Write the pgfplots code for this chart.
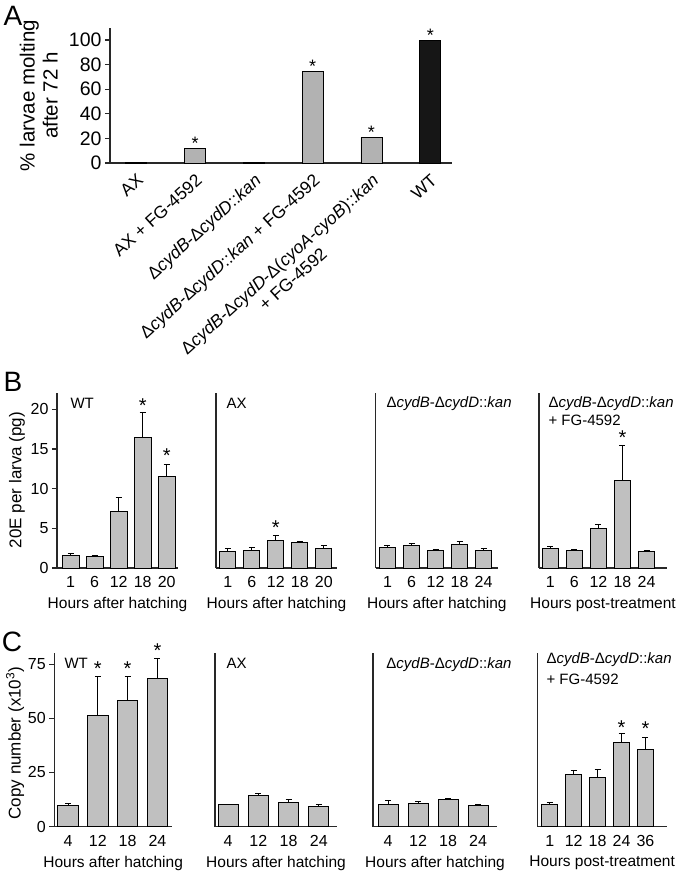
\documentclass[border=0pt]{standalone}
\usepackage{fontspec}
\setmainfont{Liberation Sans}
\usepackage{pgfplots}
\pgfplotsset{compat=1.18}

\definecolor{barA}{RGB}{178,178,178}
\definecolor{barB}{RGB}{192,192,192}
\definecolor{barK}{RGB}{22,22,22}
\definecolor{axc}{RGB}{40,40,40}

\newcommand{\fs}[2]{\fontsize{#1bp}{#2bp}\selectfont}

\tikzset{
  star/.style={font=\fs{20}{20}},
  stara/.style={font=\fs{18}{18}},
  inlab/.style={anchor=base west, font=\fs{15}{18}},
}
\pgfplotsset{
  panel/.style={scale only axis, anchor=south west, clip=false,
    axis x line*=bottom, axis y line*=left,
    axis line style={axc, line width=1.3bp},
    ymin=0, xtick style={draw=none},
    ytick style={axc, line width=1.3bp}, tick align=outside, major tick length=5bp,
    /pgf/number format/assume math mode=true,
    xticklabel style={font=\fs{16}{18}},
    yticklabel style={font=\fs{16}{18}},
    xlabel style={font=\fs{15.5}{18}, yshift=-3bp},
    ylabel style={font=\fs{17}{18}},
    height=175bp, ymax=22.05, ytick=\empty, xtick={0,...,4},
  },
  bpanel/.style={panel, height=175bp, ymax=22.05},
  cpanel/.style={panel, height=173.8bp, ymax=80.3},
  gbar/.style={ybar, bar width=#1, fill=barB, draw=black, line width=0.9bp,
    error bars/y dir=plus, error bars/y explicit,
    error bars/error bar style={line width=0.9bp, black},
    error bars/error mark options={rotate=90, mark size=3bp, line width=0.9bp, black}},
}

\begin{document}
\begin{tikzpicture}
\path[use as bounding box] (0,0) rectangle (677bp,874bp);

% ---------------- Panel A ----------------
\node[font=\fs{28}{28}] at (13bp,858bp) {A};
\begin{axis}[panel, at={(110bp,711bp)}, width=342bp, height=135bp,
  xmin=-0.45, xmax=5.37, ymin=0, ymax=109.8,
  ytick={0,20,...,100}, xtick={0,...,5},
  yticklabel style={font=\fs{19.5}{20}},
  xticklabels={{AX},{AX + FG-4592},{Δ\textit{cydB}-Δ\textit{cydD}::\textit{kan}},{Δ\textit{cydB}-Δ\textit{cydD}::\textit{kan} + FG-4592},{Δ\textit{cydB}-Δ\textit{cydD}-Δ(\textit{cyoA-cyoB})::\textit{kan}\\+ FG-4592},{WT}},
  xticklabel style={rotate=42, anchor=north east, align=center, font=\fs{17.5}{20}},
  ylabel={\% larvae molting\\after 72 h},
  ylabel style={font=\fs{20.5}{23}, align=center, at={(axis description cs:-0.208,0.5)}, anchor=center}]
\addplot[ybar, bar width=21bp, fill=barA, draw=black, line width=0.9bp] table[x=x,y=y] {
x y
0 0.8
1 12
2 0.8
3 74.4
4 20.9
};
\addplot[ybar, bar width=21bp, fill=barK, draw=black, line width=0.9bp] table[x=x,y=y] {
x y
5 100
};
\node[stara] at (axis cs:1,12) [yshift=5bp] {*};
\node[stara] at (axis cs:3,74.4) [yshift=5bp] {*};
\node[stara] at (axis cs:4,20.9) [yshift=5bp] {*};
\node[stara] at (axis cs:5,100) [yshift=5bp] {*};
\end{axis}

% ---------------- Panel B ----------------
\node[font=\fs{28}{28}] at (13bp,492bp) {B};
\begin{axis}[bpanel, at={(57bp,306bp)}, width=121bp, xmin=-0.57, xmax=4.47,
  ytick={0,5,...,20}, xticklabels={1,6,12,18,20},
  xlabel={Hours after hatching},
  ylabel={20E per larva (pg)},
  ylabel style={at={(axis description cs:-0.33,0.503)}, anchor=center}]
\addplot[gbar=17bp] table[x=x,y=y,y error=e] {
x y e
0 1.6 0.25
1 1.45 0.17
2 7.1 1.8
3 16.4 3.2
4 11.5 1.55
};
\node[star] at (axis cs:3,19.6) [yshift=7bp] {*};
\node[star] at (axis cs:4,13.05) [yshift=9bp] {*};
\node[inlab] at (axis description cs:0.083,0.912) {WT};
\end{axis}

\begin{axis}[bpanel, at={(216bp,306bp)}, width=121bp, xmin=-0.49, xmax=4.55,
  xticklabels={1,6,12,18,20}, xlabel={Hours after hatching}]
\addplot[gbar=16bp] table[x=x,y=y,y error=e] {
x y e
0 2.1 0.4
1 2.2 0.45
2 3.45 0.65
3 3.2 0.1
4 2.45 0.35
};
\node[star] at (axis cs:2,4.1) [yshift=8bp] {*};
\node[inlab] at (axis description cs:0.058,0.912) {AX};
\end{axis}

\begin{axis}[bpanel, at={(375.7bp,306bp)}, width=122.3bp, xmin=-0.49, xmax=4.6,
  xticklabels={1,6,12,18,24}, xlabel={Hours after hatching}]
\addplot[gbar=16bp] table[x=x,y=y,y error=e] {
x y e
0 2.6 0.3
1 2.8 0.25
2 2.18 0.12
3 2.94 0.36
4 2.18 0.26
};
\node[inlab] at (axis description cs:0.06,0.915) {Δ\textit{cydB}-Δ\textit{cydD}::\textit{kan}};
\end{axis}

\begin{axis}[bpanel, at={(539bp,306bp)}, width=128bp, xmin=-0.47, xmax=4.85,
  xticklabels={1,6,12,18,24}, xlabel={Hours post-treatment}]
\addplot[gbar=16bp] table[x=x,y=y,y error=e] {
x y e
0 2.44 0.33
1 2.23 0.12
2 4.92 0.58
3 11.0 4.4
4 2.06 0.17
};
\node[star] at (axis cs:3,15.4) [yshift=8bp] {*};
\node[inlab] at (axis description cs:0.047,0.915) {Δ\textit{cydB}-Δ\textit{cydD}::\textit{kan}};
\node[inlab] at (axis description cs:0.047,0.815) {+ FG-4592};
\end{axis}

% ---------------- Panel C ----------------
\node[font=\fs{28}{28}] at (12bp,232bp) {C};
\begin{axis}[cpanel, at={(54.3bp,47.5bp)}, width=117.7bp, xmin=-0.46, xmax=3.49,
  ytick={0,25,50,75}, xtick={0,...,3}, xticklabels={4,12,18,24},
  xlabel={Hours after hatching},
  ylabel={Copy number (x10\textsuperscript{3})},
  ylabel style={at={(axis description cs:-0.334,0.48)}, anchor=center}]
\addplot[gbar=20.5bp] table[x=x,y=y,y error=e] {
x y e
0 9.9 0.7
1 51.3 17.9
2 58.2 11.0
3 68.4 9.4
};
\node[star] at (axis cs:1,69.2) [yshift=8bp] {*};
\node[star] at (axis cs:2,69.2) [yshift=8bp] {*};
\node[star] at (axis cs:3,77.8) [yshift=7bp] {*};
\node[inlab] at (axis description cs:0.057,0.91) {WT};
\end{axis}

\begin{axis}[cpanel, at={(215bp,47.5bp)}, width=122bp, xmin=-0.43, xmax=3.6,
  xtick={0,...,3}, xticklabels={4,12,18,24}, xlabel={Hours after hatching}]
\addplot[gbar=20bp] table[x=x,y=y,y error=e] {
x y e
0 10.0 0.3
1 14.2 1.2
2 11.2 1.1
3 9.2 1.1
};
\node[inlab] at (axis description cs:0.066,0.91) {AX};
\end{axis}

\begin{axis}[cpanel, at={(373bp,47.5bp)}, width=124bp, xmin=-0.5, xmax=3.63,
  xtick={0,...,3}, xticklabels={4,12,18,24}, xlabel={Hours after hatching}]
\addplot[gbar=20bp] table[x=x,y=y,y error=e] {
x y e
0 10.3 1.9
1 10.5 1.1
2 12.3 0.6
3 9.7 0.5
};
\node[inlab] at (axis description cs:0.08,0.91) {Δ\textit{cydB}-Δ\textit{cydD}::\textit{kan}};
\end{axis}

\begin{axis}[cpanel, at={(537.3bp,47.5bp)}, width=129.7bp, xmin=-0.52, xmax=4.9,
  xtick={0,...,4}, xticklabels={1,12,18,24,36}, xlabel={Hours post-treatment}]
\addplot[gbar=16bp] table[x=x,y=y,y error=e] {
x y e
0 10.0 1.2
1 24.0 1.9
2 22.6 3.9
3 38.8 4.0
4 35.6 5.7
};
\node[star] at (axis cs:3,42.8) [yshift=6bp] {*};
\node[star] at (axis cs:4,41.3) [yshift=8bp] {*};
\node[inlab] at (axis description cs:0.044,0.938) {Δ\textit{cydB}-Δ\textit{cydD}::\textit{kan}};
\node[inlab] at (axis description cs:0.044,0.818) {+ FG-4592};
\end{axis}
\end{tikzpicture}
\end{document}
